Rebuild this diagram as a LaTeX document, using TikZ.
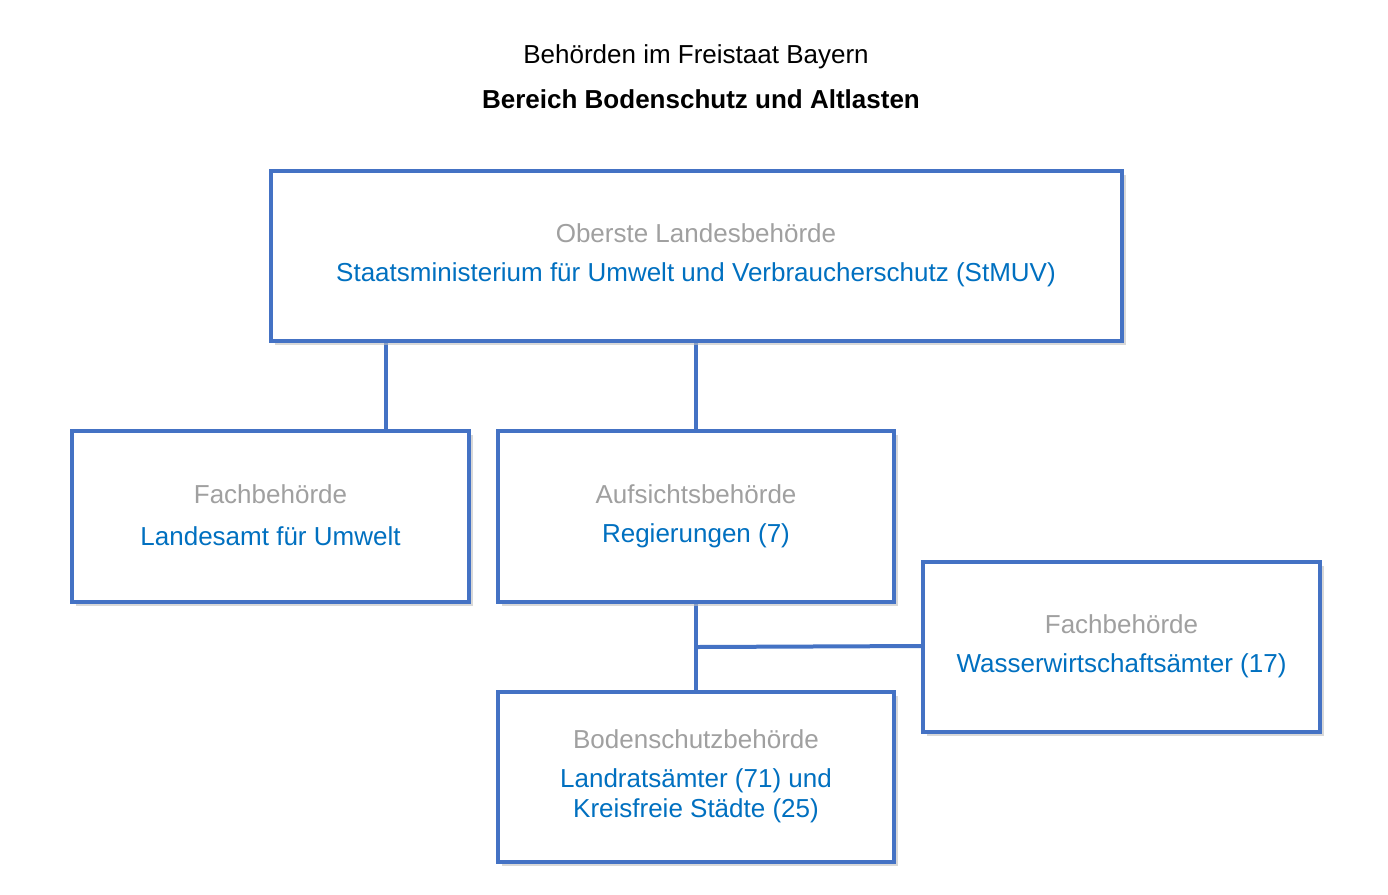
\documentclass[tikz,border=0pt]{standalone}
\usepackage{fontspec}
\setmainfont{Liberation Sans}
\usetikzlibrary{shadows}
\definecolor{bx}{HTML}{4472C4}
\definecolor{gr}{HTML}{A0A0A0}
\definecolor{bl}{HTML}{0070C0}
\begin{document}
\begin{tikzpicture}[x=0.75pt,y=-0.75pt,
  box/.style={draw=bx,line width=3pt,fill=white,minimum width=297.5pt,minimum height=128pt,inner sep=0pt,
    drop shadow={shadow xshift=3pt,shadow yshift=-3pt,fill=black!25,opacity=0.6}},
  lab/.style={text=gr,font=\fontsize{19.5pt}{23pt}\selectfont,inner sep=0pt},
  nam/.style={text=bl,font=\fontsize{19.5pt}{23pt}\selectfont,inner sep=0pt,align=center},
  con/.style={draw=bx,line width=3pt}]
\useasboundingbox (0,0) rectangle (1388,894);
\fill[white] (0,0) rectangle (1388,894);
\node[inner sep=0pt,font=\fontsize{19.5pt}{23pt}\selectfont] (t1) at (696,57) {Behörden im Freistaat Bayern};
\node[inner sep=0pt,font=\fontsize{19.5pt}{23pt}\selectfont\bfseries] (t2) at (701,99) {Bereich Bodenschutz und Altlasten};
\coordinate (c1) at (386,341); \coordinate (c1b) at (386,431);
\coordinate (c2) at (696,341); \coordinate (c2b) at (696,431);
\coordinate (c3) at (696,602); \coordinate (c3b) at (696,692);
\coordinate (j) at (696,647); \coordinate (jr) at (923,646);
\draw[con] (c1) -- (c1b);
\draw[con] (c2) -- (c2b);
\draw[con] (c3) -- (c3b);
\draw[con] (j) -- (jr);
\node[box,minimum width=638.25pt] (top) at (696.5,256) {};
\node[box] (left) at (270.5,516.5) {};
\node[box] (mid) at (696,516.5) {};
\node[box] (right) at (1121.5,647) {};
\node[box] (bot) at (696,777) {};
\node[lab] (l1) at (696,233) {Oberste Landesbehörde};
\node[nam] (n1) at (696,275) {Staatsministerium für Umwelt und Verbraucherschutz (StMUV)};
\node[lab] (l2) at (270.5,494) {Fachbehörde};
\node[nam] (n2) at (270.5,536) {Landesamt für Umwelt};
\node[lab] (l3) at (696,494) {Aufsichtsbehörde};
\node[nam] (n3) at (696,536) {Regierungen (7)};
\node[lab] (l4) at (1121.5,624) {Fachbehörde};
\node[nam] (n4) at (1121.5,666) {Wasserwirtschaftsämter (17)};
\node[lab] (l5) at (696,739) {Bodenschutzbehörde};
\node[nam,font=\fontsize{19.5pt}{22.5pt}\selectfont] (n5) at (696,796) {Landratsämter (71) und\\Kreisfreie Städte (25)};
\end{tikzpicture}
\end{document}
